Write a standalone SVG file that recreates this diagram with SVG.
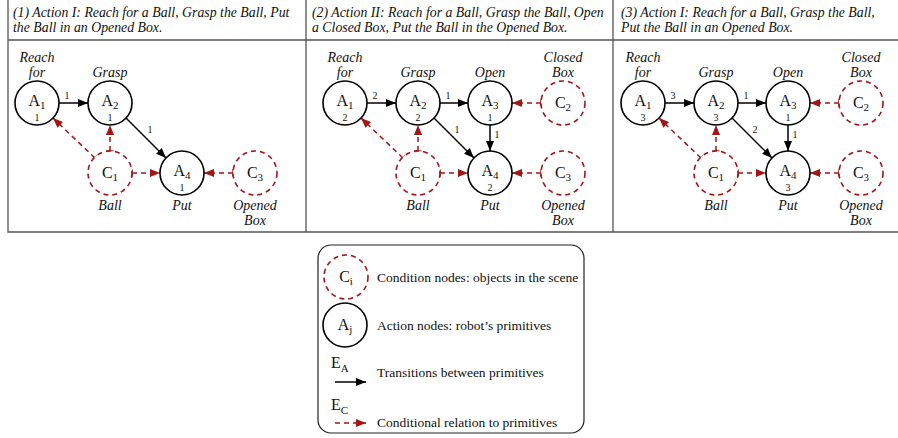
<svg xmlns="http://www.w3.org/2000/svg" width="898" height="438" viewBox="0 0 898 438">
<style>
text{font-family:"Liberation Serif","Times New Roman",serif;fill:#111}
.hd{font-size:13.8px;font-style:italic}
.nm{font-size:14px;font-style:italic;text-anchor:middle}
.lb{font-size:16px;text-anchor:middle}
.ct{font-size:10px;text-anchor:middle}
.el{font-size:10px;text-anchor:middle}
.lg{font-size:13.5px}
.a{fill:#fff;stroke:#000;stroke-width:1.6}
.c{fill:#fff;stroke:#a31515;stroke-width:1.6;stroke-dasharray:5 4}
.ea{stroke:#000;stroke-width:1.5;fill:none;marker-end:url(#ab)}
.ec{stroke:#a31515;stroke-width:1.5;fill:none;stroke-dasharray:5 4;marker-end:url(#ar);marker-start:url(#tee)}
.frame{stroke:#555;stroke-width:1.3;fill:none}
</style>
<defs>
<marker id="ab" markerWidth="11" markerHeight="9" refX="10" refY="4.5" orient="auto" markerUnits="userSpaceOnUse"><path d="M0,0.5 L10,4.5 L0,8.5 Z" fill="#000"/></marker>
<marker id="ar" markerWidth="11" markerHeight="9" refX="10" refY="4.5" orient="auto" markerUnits="userSpaceOnUse"><path d="M0,0.5 L10,4.5 L0,8.5 Z" fill="#a31515"/></marker>
<marker id="tee" markerWidth="4" markerHeight="10" refX="1" refY="5" orient="auto" markerUnits="userSpaceOnUse"><path d="M1,1.5 L1,8.5" stroke="#a31515" stroke-width="1.5"/></marker>
</defs>

<g id="frame">
<path class="frame" d="M8,0 V232 H898 M306,0 V232 M613,0 V232 M8,40 H898"/>
</g>

<g id="headers">
<text class="hd" x="13" y="17">(1) Action I: Reach for a Ball, Grasp the Ball, Put</text>
<text class="hd" x="13" y="32">the Ball in an Opened Box.</text>
<text class="hd" x="312" y="17">(2) Action II: Reach for a Ball, Grasp the Ball, Open</text>
<text class="hd" x="312" y="32">a Closed Box, Put the Ball in the Opened Box.</text>
<text class="hd" x="621" y="17">(3) Action I: Reach for a Ball, Grasp the Ball,</text>
<text class="hd" x="621" y="32">Put the Ball in an Opened Box.</text>
</g>

<!-- Panel 1 -->
<g id="panel1">
<g id="p1-connectors">
<line class="ea" x1="59" y1="103" x2="88" y2="103"/>
<line class="ea" x1="126" y1="118" x2="166" y2="158"/>
<line class="ec" x1="95" y1="158" x2="53" y2="118"/>
<line class="ec" x1="110" y1="151" x2="110" y2="125"/>
<line class="ec" x1="132" y1="173" x2="160" y2="173"/>
<line class="ec" x1="233" y1="173" x2="204" y2="173"/>
<text class="el" x="67" y="99">1</text>
<text class="el" x="150" y="133">1</text>
</g>
<g id="p1-A1"><text class="nm" x="37" y="62">Reach</text><text class="nm" x="37" y="77">for</text><circle class="a" cx="37" cy="103" r="22"/><text class="lb" x="37" y="106">A<tspan font-size="11" dy="3">1</tspan></text><text class="ct" x="37" y="121">1</text></g>
<g id="p1-A2"><text class="nm" x="110" y="77">Grasp</text><circle class="a" cx="110" cy="103" r="22"/><text class="lb" x="110" y="106">A<tspan font-size="11" dy="3">2</tspan></text><text class="ct" x="110" y="121">1</text></g>
<g id="p1-A4"><circle class="a" cx="182" cy="173" r="22"/><text class="lb" x="182" y="176">A<tspan font-size="11" dy="3">4</tspan></text><text class="ct" x="182" y="191">1</text><text class="nm" x="182" y="210">Put</text></g>
<g id="p1-C1"><circle class="c" cx="110" cy="173" r="22"/><text class="lb" x="110" y="178">C<tspan font-size="11" dy="3">1</tspan></text><text class="nm" x="110" y="210">Ball</text></g>
<g id="p1-C3"><circle class="c" cx="255" cy="173" r="22"/><text class="lb" x="255" y="178">C<tspan font-size="11" dy="3">3</tspan></text><text class="nm" x="255" y="210">Opened</text><text class="nm" x="255" y="225">Box</text></g>
</g>

<!-- Panel 2 -->
<g id="panel2" transform="translate(308,0)">
<g id="p2-connectors">
<line class="ea" x1="59" y1="103" x2="88" y2="103"/>
<line class="ea" x1="132" y1="103" x2="160" y2="103"/>
<line class="ea" x1="126" y1="118" x2="166" y2="158"/>
<line class="ea" x1="182" y1="125" x2="182" y2="151"/>
<line class="ec" x1="95" y1="158" x2="53" y2="118"/>
<line class="ec" x1="110" y1="151" x2="110" y2="125"/>
<line class="ec" x1="132" y1="173" x2="160" y2="173"/>
<line class="ec" x1="233" y1="173" x2="204" y2="173"/>
<line class="ec" x1="233" y1="103" x2="204" y2="103"/>
<text class="el" x="67" y="99">2</text>
<text class="el" x="140" y="99">1</text>
<text class="el" x="149" y="133">1</text>
<text class="el" x="189" y="138">1</text>
</g>
<g id="p2-A1"><text class="nm" x="37" y="62">Reach</text><text class="nm" x="37" y="77">for</text><circle class="a" cx="37" cy="103" r="22"/><text class="lb" x="37" y="106">A<tspan font-size="11" dy="3">1</tspan></text><text class="ct" x="37" y="121">2</text></g>
<g id="p2-A2"><text class="nm" x="110" y="77">Grasp</text><circle class="a" cx="110" cy="103" r="22"/><text class="lb" x="110" y="106">A<tspan font-size="11" dy="3">2</tspan></text><text class="ct" x="110" y="121">2</text></g>
<g id="p2-A3"><text class="nm" x="182" y="77">Open</text><circle class="a" cx="182" cy="103" r="22"/><text class="lb" x="182" y="106">A<tspan font-size="11" dy="3">3</tspan></text><text class="ct" x="182" y="121">1</text></g>
<g id="p2-C2"><text class="nm" x="255" y="62">Closed</text><text class="nm" x="255" y="77">Box</text><circle class="c" cx="255" cy="103" r="22"/><text class="lb" x="255" y="108">C<tspan font-size="11" dy="3">2</tspan></text></g>
<g id="p2-A4"><circle class="a" cx="182" cy="173" r="22"/><text class="lb" x="182" y="176">A<tspan font-size="11" dy="3">4</tspan></text><text class="ct" x="182" y="191">2</text><text class="nm" x="182" y="210">Put</text></g>
<g id="p2-C1"><circle class="c" cx="110" cy="173" r="22"/><text class="lb" x="110" y="178">C<tspan font-size="11" dy="3">1</tspan></text><text class="nm" x="110" y="210">Ball</text></g>
<g id="p2-C3"><circle class="c" cx="255" cy="173" r="22"/><text class="lb" x="255" y="178">C<tspan font-size="11" dy="3">3</tspan></text><text class="nm" x="255" y="210">Opened</text><text class="nm" x="255" y="225">Box</text></g>
</g>

<!-- Panel 3 -->
<g id="panel3" transform="translate(606,0)">
<g id="p3-connectors">
<line class="ea" x1="59" y1="103" x2="88" y2="103"/>
<line class="ea" x1="132" y1="103" x2="160" y2="103"/>
<line class="ea" x1="126" y1="118" x2="166" y2="158"/>
<line class="ea" x1="182" y1="125" x2="182" y2="151"/>
<line class="ec" x1="95" y1="158" x2="53" y2="118"/>
<line class="ec" x1="110" y1="151" x2="110" y2="125"/>
<line class="ec" x1="132" y1="173" x2="160" y2="173"/>
<line class="ec" x1="233" y1="173" x2="204" y2="173"/>
<line class="ec" x1="233" y1="103" x2="204" y2="103"/>
<text class="el" x="67" y="99">3</text>
<text class="el" x="140" y="99">1</text>
<text class="el" x="149" y="133">2</text>
<text class="el" x="189" y="138">1</text>
</g>
<g id="p3-A1"><text class="nm" x="37" y="62">Reach</text><text class="nm" x="37" y="77">for</text><circle class="a" cx="37" cy="103" r="22"/><text class="lb" x="37" y="106">A<tspan font-size="11" dy="3">1</tspan></text><text class="ct" x="37" y="121">3</text></g>
<g id="p3-A2"><text class="nm" x="110" y="77">Grasp</text><circle class="a" cx="110" cy="103" r="22"/><text class="lb" x="110" y="106">A<tspan font-size="11" dy="3">2</tspan></text><text class="ct" x="110" y="121">3</text></g>
<g id="p3-A3"><text class="nm" x="182" y="77">Open</text><circle class="a" cx="182" cy="103" r="22"/><text class="lb" x="182" y="106">A<tspan font-size="11" dy="3">3</tspan></text><text class="ct" x="182" y="121">1</text></g>
<g id="p3-C2"><text class="nm" x="255" y="62">Closed</text><text class="nm" x="255" y="77">Box</text><circle class="c" cx="255" cy="103" r="22"/><text class="lb" x="255" y="108">C<tspan font-size="11" dy="3">2</tspan></text></g>
<g id="p3-A4"><circle class="a" cx="182" cy="173" r="22"/><text class="lb" x="182" y="176">A<tspan font-size="11" dy="3">4</tspan></text><text class="ct" x="182" y="191">3</text><text class="nm" x="182" y="210">Put</text></g>
<g id="p3-C1"><circle class="c" cx="110" cy="173" r="22"/><text class="lb" x="110" y="178">C<tspan font-size="11" dy="3">1</tspan></text><text class="nm" x="110" y="210">Ball</text></g>
<g id="p3-C3"><circle class="c" cx="255" cy="173" r="22"/><text class="lb" x="255" y="178">C<tspan font-size="11" dy="3">3</tspan></text><text class="nm" x="255" y="210">Opened</text><text class="nm" x="255" y="225">Box</text></g>
</g>

<!-- Legend -->
<g id="legend">
<rect x="318" y="245" width="266" height="188" rx="13" fill="#fff" stroke="#222" stroke-width="1.2"/>
<g id="lg-cond"><circle class="c" cx="346" cy="277" r="22"/><text class="lb" x="346" y="282">C<tspan font-size="11" dy="3">i</tspan></text><text class="lg" x="377" y="282">Condition nodes: objects in the scene</text></g>
<g id="lg-act"><circle class="a" cx="345" cy="325" r="22"/><text class="lb" x="345" y="330">A<tspan font-size="11" dy="3">j</tspan></text><text class="lg" x="377" y="330">Action nodes: robot’s primitives</text></g>
<g id="lg-ea"><text class="lb" x="331" y="368" style="text-anchor:start">E<tspan font-size="11" dy="4">A</tspan></text><line class="ea" x1="335" y1="382" x2="366" y2="382"/><text class="lg" x="377" y="377">Transitions between primitives</text></g>
<g id="lg-ec"><text class="lb" x="331" y="410" style="text-anchor:start">E<tspan font-size="11" dy="4">C</tspan></text><line x1="335" y1="423" x2="366" y2="423" stroke="#a31515" stroke-width="1.5" stroke-dasharray="5 4" marker-end="url(#ar)"/><text class="lg" x="377" y="427">Conditional relation to primitives</text></g>
</g>
</svg>
